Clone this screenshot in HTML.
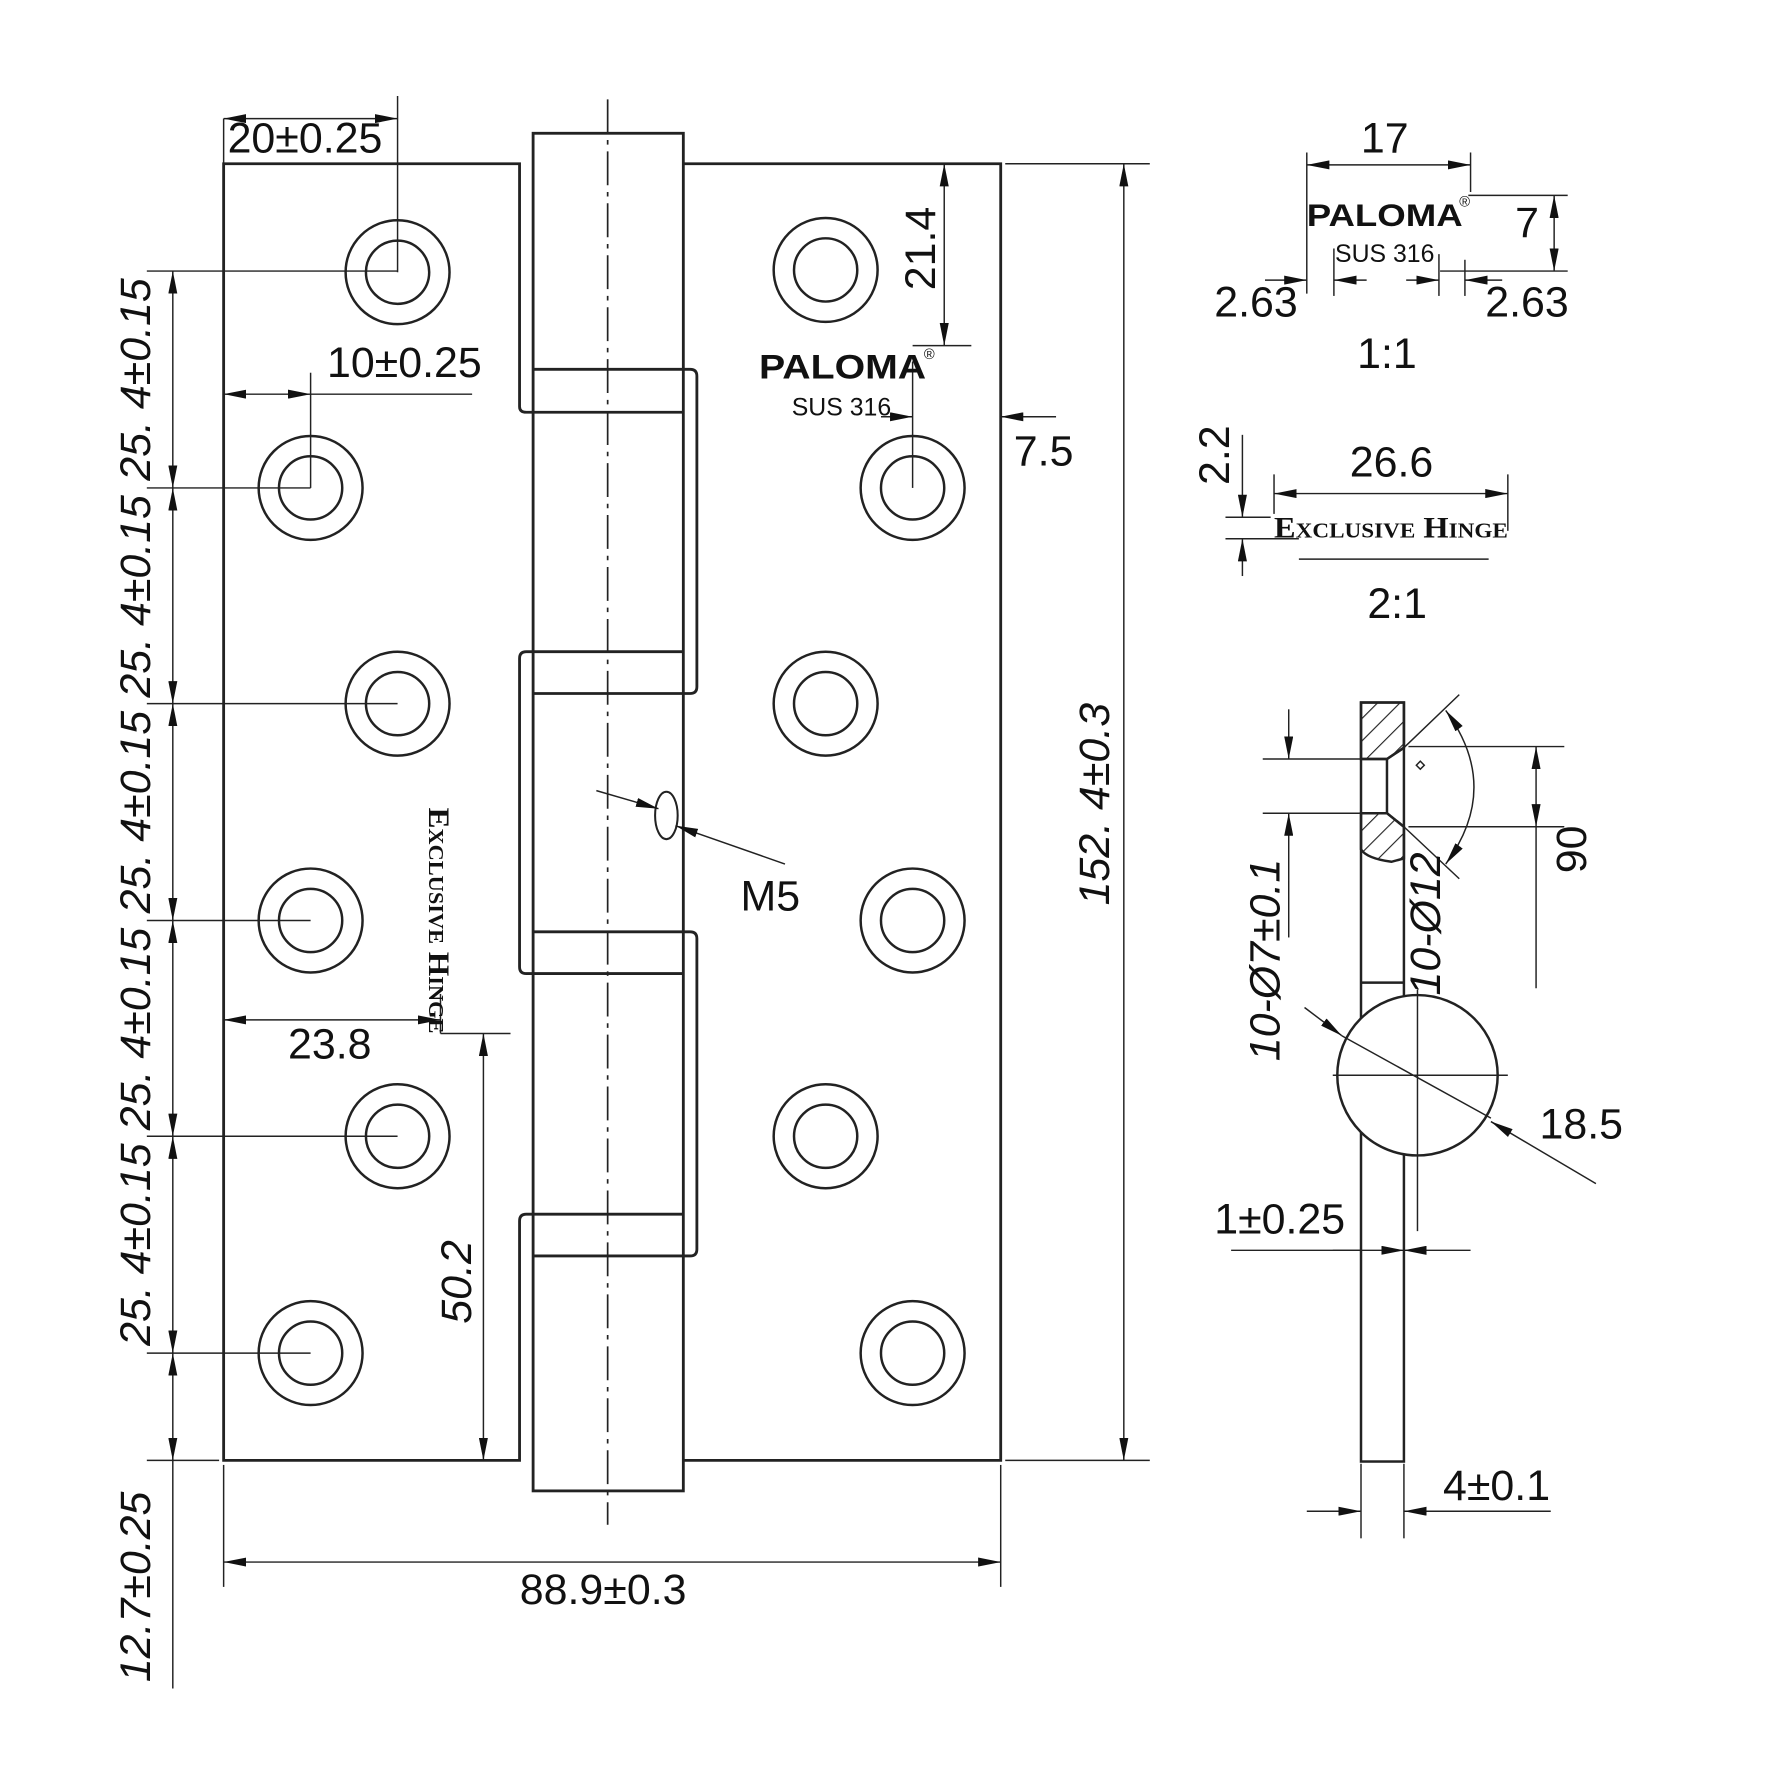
<!DOCTYPE html>
<html><head><meta charset="utf-8"><style>
html,body{margin:0;padding:0;background:#fff;}
svg{display:block;}
text{font-family:"Liberation Sans Narrow","Liberation Sans",sans-serif;fill:#111;}
.d{font-size:38px;}
</style></head><body>
<svg width="1771" height="1771" viewBox="0 0 1568 1568" xmlns="http://www.w3.org/2000/svg">
<defs>
<marker id="a" viewBox="0 0 20 8" refX="20" refY="4" markerWidth="20" markerHeight="8" markerUnits="userSpaceOnUse" orient="auto-start-reverse"><path d="M0,0 L20,4 L0,8 z" fill="#111"/></marker>
<pattern id="h" width="14" height="14" patternUnits="userSpaceOnUse" patternTransform="rotate(45)"><line x1="0" y1="0" x2="0" y2="14" stroke="#222" stroke-width="2"/></pattern>
</defs>
<g fill="none" stroke="#222" stroke-width="2.5">
<path d="M472,1075 H466 Q460,1075 460,1081 V1293 H198 V145 H460 V360 Q460,365 466,365 H472"/>
<path d="M472,577 H466 Q460,577 460,583 V856 Q460,862 466,862 H472"/>
<path d="M605,145 H886 V1293 H605 M605,327 H611 Q617,327 617,333 V608 Q617,614 611,614 H605 M605,825 H611 Q617,825 617,831 V1106 Q617,1112 611,1112 H605"/>
<rect x="472" y="118" width="133" height="1202"/>
<path d="M472,327H605M472,365H605M472,577H605M472,614H605M472,825H605M472,862H605M472,1075H605M472,1112H605"/>
<g stroke-width="2.2">
<circle cx="352" cy="241" r="46"/><circle cx="352" cy="241" r="28"/>
<circle cx="275" cy="432" r="46"/><circle cx="275" cy="432" r="28"/>
<circle cx="352" cy="623" r="46"/><circle cx="352" cy="623" r="28"/>
<circle cx="275" cy="815" r="46"/><circle cx="275" cy="815" r="28"/>
<circle cx="352" cy="1006" r="46"/><circle cx="352" cy="1006" r="28"/>
<circle cx="275" cy="1198" r="46"/><circle cx="275" cy="1198" r="28"/>
<circle cx="731" cy="239" r="46"/><circle cx="731" cy="239" r="28"/>
<circle cx="808" cy="432" r="46"/><circle cx="808" cy="432" r="28"/>
<circle cx="731" cy="623" r="46"/><circle cx="731" cy="623" r="28"/>
<circle cx="808" cy="815" r="46"/><circle cx="808" cy="815" r="28"/>
<circle cx="731" cy="1006" r="46"/><circle cx="731" cy="1006" r="28"/>
<circle cx="808" cy="1198" r="46"/><circle cx="808" cy="1198" r="28"/>
</g>
<ellipse cx="590" cy="722" rx="10" ry="21" stroke-width="1.8"/>
</g>
<line x1="538" y1="88" x2="538" y2="1350" stroke="#222" stroke-width="1.5" stroke-dasharray="30,6,4,6"/>

<g stroke="#222" stroke-width="1.3" fill="none">
<line x1="198" y1="105" x2="198" y2="145"/><line x1="352" y1="85" x2="352" y2="241"/>
<line x1="198" y1="105" x2="352" y2="105" marker-start="url(#a)" marker-end="url(#a)"/>
<line x1="275" y1="330" x2="275" y2="432"/>
<line x1="198" y1="349" x2="275" y2="349" marker-start="url(#a)" marker-end="url(#a)"/><line x1="275" y1="349" x2="418" y2="349"/>
<line x1="130" y1="240" x2="352" y2="240"/>
<line x1="130" y1="432" x2="275" y2="432"/>
<line x1="130" y1="623" x2="352" y2="623"/>
<line x1="130" y1="815" x2="275" y2="815"/>
<line x1="130" y1="1006" x2="352" y2="1006"/>
<line x1="130" y1="1198" x2="275" y2="1198"/>
<line x1="130" y1="1293" x2="194" y2="1293"/>
<line x1="153" y1="240" x2="153" y2="432" marker-start="url(#a)" marker-end="url(#a)"/>
<line x1="153" y1="432" x2="153" y2="623" marker-start="url(#a)" marker-end="url(#a)"/>
<line x1="153" y1="623" x2="153" y2="815" marker-start="url(#a)" marker-end="url(#a)"/>
<line x1="153" y1="815" x2="153" y2="1006" marker-start="url(#a)" marker-end="url(#a)"/>
<line x1="153" y1="1006" x2="153" y2="1198" marker-start="url(#a)" marker-end="url(#a)"/>
<line x1="153" y1="1198" x2="153" y2="1293" marker-start="url(#a)" marker-end="url(#a)"/>
<line x1="153" y1="1293" x2="153" y2="1495"/>
<line x1="198" y1="903" x2="390" y2="903" marker-start="url(#a)" marker-end="url(#a)"/>
<line x1="390" y1="880" x2="390" y2="915"/>
<line x1="390" y1="915" x2="452" y2="915"/>
<line x1="428" y1="915" x2="428" y2="1293" marker-start="url(#a)" marker-end="url(#a)"/>
<line x1="836" y1="145" x2="836" y2="306" marker-start="url(#a)" marker-end="url(#a)"/>
<line x1="808" y1="306" x2="860" y2="306"/>
<line x1="808" y1="320" x2="808" y2="432"/>
<line x1="780" y1="369" x2="808" y2="369" marker-end="url(#a)"/>
<line x1="886" y1="369" x2="935" y2="369"/><line x1="910" y1="369" x2="886" y2="369" marker-end="url(#a)"/>
<line x1="890" y1="145" x2="1018" y2="145"/><line x1="890" y1="1293" x2="1018" y2="1293"/>
<line x1="995" y1="145" x2="995" y2="1293" marker-start="url(#a)" marker-end="url(#a)"/>
<line x1="198" y1="1297" x2="198" y2="1405"/><line x1="886" y1="1297" x2="886" y2="1405"/>
<line x1="198" y1="1383" x2="886" y2="1383" marker-start="url(#a)" marker-end="url(#a)"/>
<line x1="528" y1="700" x2="583" y2="716" marker-end="url(#a)"/>
<line x1="695" y1="765" x2="598" y2="731" marker-end="url(#a)"/>

<line x1="1157" y1="135" x2="1157" y2="260"/><line x1="1302" y1="135" x2="1302" y2="170"/>
<line x1="1157" y1="146" x2="1302" y2="146" marker-start="url(#a)" marker-end="url(#a)"/>
<line x1="1300" y1="173" x2="1388" y2="173"/><line x1="1275" y1="240" x2="1388" y2="240"/>
<line x1="1376" y1="173" x2="1376" y2="240" marker-start="url(#a)" marker-end="url(#a)"/>
<line x1="1181" y1="220" x2="1181" y2="262"/><line x1="1274" y1="225" x2="1274" y2="262"/><line x1="1297" y1="230" x2="1297" y2="262"/>
<line x1="1120" y1="248" x2="1157" y2="248" marker-end="url(#a)"/><line x1="1210" y1="248" x2="1181" y2="248" marker-end="url(#a)"/>
<line x1="1245" y1="248" x2="1274" y2="248" marker-end="url(#a)"/><line x1="1330" y1="248" x2="1297" y2="248" marker-end="url(#a)"/>
<line x1="1128" y1="420" x2="1128" y2="455"/><line x1="1335" y1="420" x2="1335" y2="470"/>
<line x1="1128" y1="437" x2="1335" y2="437" marker-start="url(#a)" marker-end="url(#a)"/>
<line x1="1085" y1="458" x2="1125" y2="458"/><line x1="1085" y1="477" x2="1150" y2="477"/>
<line x1="1100" y1="385" x2="1100" y2="458" marker-end="url(#a)"/><line x1="1100" y1="510" x2="1100" y2="477" marker-end="url(#a)"/>
<line x1="1150" y1="495" x2="1318" y2="495"/>
</g>

<g stroke="#222" stroke-width="2.2" fill="none">
<path d="M1205,622 L1243,622 L1243,662 L1228,672 L1205,672 Z" fill="url(#h)"/>
<path d="M1205,720 L1228,720 L1243,732 L1243,760 L1232,763 Q1210,760 1205,752 Z" fill="url(#h)"/>
<rect x="1205" y="622" width="38" height="672"/>
<path d="M1205,672 H1228 V720 H1205 M1228,672 L1243,662 M1228,720 L1243,732 M1205,870 H1243"/>
<circle cx="1255" cy="952" r="71" fill="#fff"/>
</g>
<g stroke="#222" stroke-width="1.3" fill="none">
<line x1="1118" y1="672" x2="1205" y2="672"/><line x1="1118" y1="720" x2="1205" y2="720"/>
<line x1="1141" y1="628" x2="1141" y2="672" marker-end="url(#a)"/><line x1="1141" y1="780" x2="1141" y2="720" marker-end="url(#a)"/>
<line x1="1141" y1="780" x2="1141" y2="830"/>
<line x1="1247" y1="661" x2="1385" y2="661"/><line x1="1247" y1="732" x2="1385" y2="732"/>
<line x1="1360" y1="661" x2="1360" y2="732" marker-start="url(#a)" marker-end="url(#a)"/><line x1="1360" y1="732" x2="1360" y2="875"/>
<line x1="1243" y1="662" x2="1292" y2="615"/><line x1="1243" y1="732" x2="1292" y2="778"/>
<path d="M1280,629 Q1330,697 1280,765" marker-start="url(#a)" marker-end="url(#a)"/>
<rect x="1255" y="675" width="5" height="5" transform="rotate(45 1257.5 677.5)"/>
<line x1="1180" y1="952" x2="1335" y2="952"/><line x1="1255" y1="876" x2="1255" y2="1090"/>
<line x1="1155" y1="892" x2="1188" y2="917" marker-end="url(#a)"/><line x1="1188" y1="917" x2="1320" y2="990"/>
<line x1="1413" y1="1048" x2="1320" y2="993" marker-end="url(#a)"/>
<line x1="1090" y1="1107" x2="1205" y2="1107"/><line x1="1180" y1="1107" x2="1243" y2="1107" marker-end="url(#a)"/>
<line x1="1302" y1="1107" x2="1243" y2="1107" marker-end="url(#a)"/>
<line x1="1205" y1="1296" x2="1205" y2="1362"/><line x1="1243" y1="1296" x2="1243" y2="1362"/>
<line x1="1157" y1="1338" x2="1205" y2="1338" marker-end="url(#a)"/><line x1="1373" y1="1338" x2="1243" y2="1338" marker-end="url(#a)"/>
</g>

<g class="d">
<text x="270" y="135" text-anchor="middle">20±0.25</text>
<text x="358" y="334" text-anchor="middle">10±0.25</text>
<text x="292" y="937" text-anchor="middle">23.8</text>
<text x="534" y="1420" text-anchor="middle">88.9±0.3</text>
<text x="682" y="806" text-anchor="middle">M5</text>
<text x="924" y="412" text-anchor="middle">7.5</text>
<text x="1226" y="135" text-anchor="middle">17</text>
<text x="1352" y="210" text-anchor="middle">7</text>
<text x="1112" y="280" text-anchor="middle">2.63</text>
<text x="1352" y="280" text-anchor="middle">2.63</text>
<text x="1228" y="326" text-anchor="middle">1:1</text>
<text x="1232" y="422" text-anchor="middle">26.6</text>
<text x="1237" y="547" text-anchor="middle">2:1</text>
<text x="1400" y="1008" text-anchor="middle">18.5</text>
<text x="1133" y="1092" text-anchor="middle">1±0.25</text>
<text x="1325" y="1328" text-anchor="middle">4±0.1</text>
<text transform="translate(828,220) rotate(-90)" text-anchor="middle">21.4</text>
<text transform="translate(417,1135) rotate(-90)" text-anchor="middle" font-style="italic">50.2</text>
<text transform="translate(982,712) rotate(-90)" text-anchor="middle" font-style="italic">152. 4±0.3</text>
<text transform="translate(1088,403) rotate(-90)" text-anchor="middle">2.2</text>
<text transform="translate(1404,752) rotate(-90)" text-anchor="middle">90</text>
<text transform="translate(1275,818) rotate(-90)" text-anchor="middle" font-style="italic">10-Ø12</text>
<text transform="translate(1133,850) rotate(-90)" text-anchor="middle" font-style="italic">10-Ø7±0.1</text>
<text transform="translate(133,1405) rotate(-90)" text-anchor="middle" font-style="italic">12.7±0.25</text>
<text transform="translate(133,336) rotate(-90)" text-anchor="middle" font-style="italic">25. 4±0.15</text>
<text transform="translate(133,528) rotate(-90)" text-anchor="middle" font-style="italic">25. 4±0.15</text>
<text transform="translate(133,719) rotate(-90)" text-anchor="middle" font-style="italic">25. 4±0.15</text>
<text transform="translate(133,911) rotate(-90)" text-anchor="middle" font-style="italic">25. 4±0.15</text>
<text transform="translate(133,1102) rotate(-90)" text-anchor="middle" font-style="italic">25. 4±0.15</text>
</g>
<text x="672" y="335" textLength="148" lengthAdjust="spacingAndGlyphs" font-size="30" font-weight="bold" style="font-family:'Liberation Sans',sans-serif">PALOMA</text>
<text x="818" y="318" font-size="13" style="font-family:'Liberation Sans',sans-serif">®</text>
<text x="745" y="368" text-anchor="middle" font-size="22" style="font-family:'Liberation Sans',sans-serif">SUS 316</text>
<text x="1157" y="200" textLength="138" lengthAdjust="spacingAndGlyphs" font-size="28" font-weight="bold" style="font-family:'Liberation Sans',sans-serif">PALOMA</text>
<text x="1292" y="183" font-size="13" style="font-family:'Liberation Sans',sans-serif">®</text>
<text x="1226" y="232" text-anchor="middle" font-size="22" style="font-family:'Liberation Sans',sans-serif">SUS 316</text>
<text x="1128" y="476" textLength="207" lengthAdjust="spacingAndGlyphs" font-size="26" font-weight="bold" style="font-family:'Liberation Serif',serif;font-variant:small-caps">Exclusive Hinge</text>
<text transform="translate(380,715) rotate(90)" textLength="200" lengthAdjust="spacingAndGlyphs" font-size="26" font-weight="bold" style="font-family:'Liberation Serif',serif;font-variant:small-caps">Exclusive Hinge</text>
</svg>
</body></html>
